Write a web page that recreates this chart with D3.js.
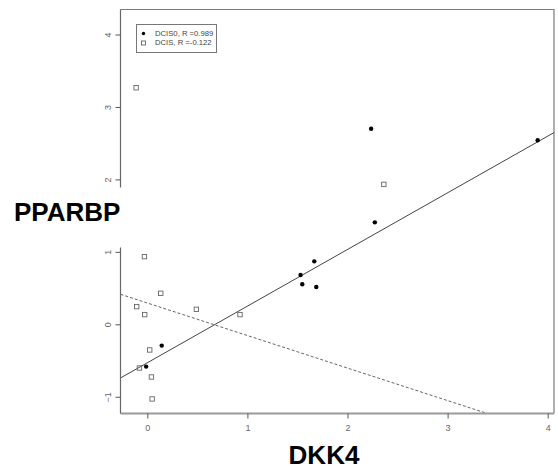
<!DOCTYPE html>
<html>
<head>
<meta charset="utf-8">
<script src="https://cdn.jsdelivr.net/npm/d3@7"></script>
<style>
html,body{margin:0;padding:0;background:#fff;}
svg{display:block;}
</style>
</head>
<body>
<svg id="chart" width="558" height="473"></svg>
<script>
// ---- data ----
const dcis0X = [2.236, 3.90, 2.273, 1.668, 1.531, 1.548, 1.688, 0.144, -0.012];
const dcis0Y = [2.70, 2.54, 1.407, 0.869, 0.68, 0.552, 0.515, -0.294, -0.584];
const dcisX = [2.363, 0.926, -0.112, -0.029, 0.134, -0.106, -0.026, 0.49, 0.024, -0.079, 0.041, 0.048];
const dcisY = [1.931, 0.134, 3.265, 0.934, 0.428, 0.244, 0.134, 0.207, -0.354, -0.603, -0.727, -1.03];
// regression lines: [intercept, slope]
const fitDcis0 = [-0.531, 0.782];
const fitDcis = [0.294, -0.449];
const xTicks = [0, 1, 2, 3, 4];
const yTicks = [-1, 0, 1, 2, 3, 4];
const legendLabels = ["DCIS0, R =0.989", "DCIS, R =-0.122"];
const xLabel = "DKK4";
const yLabel = "PPARBP";

const svg = d3.select("#chart");
const L = 120.5, R = 554, T = 9.5, B = 413.5;
const x = d3.scaleLinear().domain([-0.268, 4.063]).range([L, R]);
const y = d3.scaleLinear().domain([-1.231, 4.345]).range([B, T]);

// plot frame (top/right)
svg.append("path")
  .attr("d", `M${L},${T}H${R}V${B}`)
  .attr("fill", "none").attr("stroke", "#7a7a7a").attr("stroke-width", 1.2);

// clip for fitted lines
svg.append("clipPath").attr("id", "clip")
  .append("rect").attr("x", L).attr("y", T).attr("width", R - L).attr("height", B - T);

const lineG = svg.append("g").attr("clip-path", "url(#clip)");
const [x0, x1] = x.domain();
lineG.append("line")
  .attr("x1", x(x0)).attr("y1", y(fitDcis0[0] + fitDcis0[1] * x0))
  .attr("x2", x(x1)).attr("y2", y(fitDcis0[0] + fitDcis0[1] * x1))
  .attr("stroke", "#444").attr("stroke-width", 1);
lineG.append("line")
  .attr("x1", x(x0)).attr("y1", y(fitDcis[0] + fitDcis[1] * x0))
  .attr("x2", x(x1)).attr("y2", y(fitDcis[0] + fitDcis[1] * x1))
  .attr("stroke", "#666").attr("stroke-width", 1).attr("stroke-dasharray", "3,2");

// x axis
const xAxis = svg.append("g").attr("transform", `translate(0,${B})`)
  .call(d3.axisBottom(x).tickValues(xTicks).tickSize(5).tickSizeOuter(0).tickFormat(d3.format("d")));
xAxis.select(".domain").attr("stroke", "#9a9a9a").attr("stroke-width", 2)
  .attr("d", `M${L},0H${R}`);
xAxis.selectAll(".tick line").attr("stroke", "#555");
xAxis.selectAll(".tick text").attr("fill", "#666").attr("font-size", 9)
  .attr("font-family", "Liberation Sans, Arial, sans-serif").attr("dy", "1em");

// y axis
const yAxis = svg.append("g").attr("transform", `translate(${L},0)`)
  .call(d3.axisLeft(y).tickValues(yTicks).tickSize(5).tickSizeOuter(0).tickFormat(d3.format("d")));
yAxis.select(".domain").attr("stroke", "#666").attr("stroke-width", 1.2)
  .attr("d", `M0,${T}V${B}`);
yAxis.selectAll(".tick line").attr("stroke", "#555");
yAxis.selectAll(".tick text").attr("fill", "#666").attr("font-size", 9)
  .attr("font-family", "Liberation Sans, Arial, sans-serif")
  .attr("text-anchor", "middle").attr("x", 0)
  .attr("transform", "translate(-13,0) rotate(-90)")
  .attr("dy", "0.35em");

// open squares (DCIS)
svg.append("g").selectAll("rect").data(dcisX.map((d, i) => [d, dcisY[i]]))
  .join("rect")
  .attr("x", d => x(d[0]) - 2.2).attr("y", d => y(d[1]) - 2.2)
  .attr("width", 4.4).attr("height", 4.4)
  .attr("fill", "none").attr("stroke", "#666").attr("stroke-width", 0.9);

// filled dots (DCIS0)
svg.append("g").selectAll("circle").data(dcis0X.map((d, i) => [d, dcis0Y[i]]))
  .join("circle")
  .attr("cx", d => x(d[0])).attr("cy", d => y(d[1])).attr("r", 2.2)
  .attr("fill", "#000");

// legend
const lg = svg.append("g");
lg.append("rect").attr("x", 136.5).attr("y", 24.5).attr("width", 80).attr("height", 28)
  .attr("fill", "#fff").attr("stroke", "#777").attr("stroke-width", 1);
lg.append("circle").attr("cx", 143.5).attr("cy", 33.5).attr("r", 1.7).attr("fill", "#000");
lg.append("rect").attr("x", 141.5).attr("y", 41).attr("width", 4).attr("height", 4)
  .attr("fill", "none").attr("stroke", "#666").attr("stroke-width", 0.9);
lg.selectAll("text").data(legendLabels).join("text")
  .attr("x", 155).attr("y", (d, i) => 36.3 + i * 9)
  .attr("font-size", 7.7).attr("fill", "#444")
  .attr("font-family", "Liberation Sans, Arial, sans-serif")
  .text(d => d);

// axis titles
svg.append("text").attr("x", 324).attr("y", 463.5).attr("text-anchor", "middle")
  .attr("font-size", 26).attr("font-weight", "bold").attr("fill", "#000")
  .attr("font-family", "Liberation Sans, Arial, sans-serif").text(xLabel);

svg.append("rect").attr("x", 0).attr("y", 187.5).attr("width", 122).attr("height", 60).attr("fill", "#fff");
svg.append("text").attr("x", 14).attr("y", 220.7)
  .attr("font-size", 26).attr("font-weight", "bold").attr("fill", "#000")
  .attr("font-family", "Liberation Sans, Arial, sans-serif").text(yLabel);
</script>
</body>
</html>
